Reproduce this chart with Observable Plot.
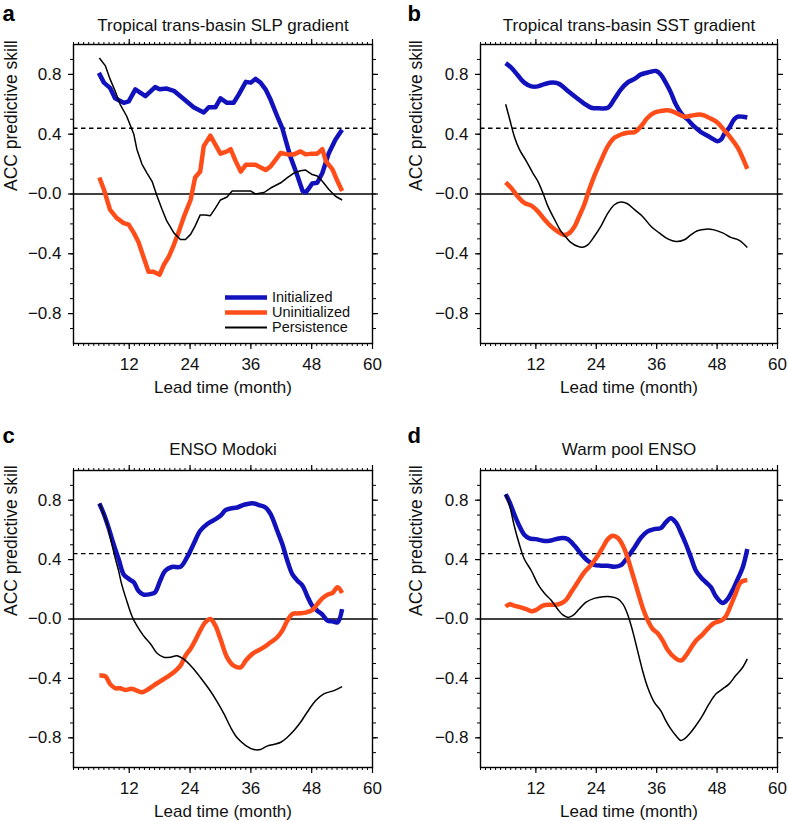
<!DOCTYPE html>
<html><head><meta charset="utf-8">
<script src="https://cdn.jsdelivr.net/npm/d3@7"></script>
<script src="https://cdn.jsdelivr.net/npm/@observablehq/plot@0.6"></script>
<style>
html,body{margin:0;padding:0;background:#fff;}
#root{position:relative;width:788px;height:821px;overflow:hidden;font-family:"Liberation Sans",Arial,sans-serif;color:#111;}
.panel{position:absolute;}
.legend{position:absolute;font-size:14.5px;line-height:15px;}
.legend .row{display:flex;align-items:center;height:15px;}
.legend span{margin-left:5px;}
</style></head>
<body><div id="root"></div>
<script>
// ---------- data ----------
const panelLetters = ["a", "b", "c", "d"];
const panelTitles = ["Tropical trans-basin SLP gradient", "Tropical trans-basin SST gradient", "ENSO Modoki", "Warm pool ENSO"];
const seriesNames = ["Initialized", "Uninitialized", "Persistence"];
const xTickLabels = [12, 24, 36, 48, 60];
const yTickLabels = [-0.8, -0.4, 0, 0.4, 0.8];
const significance = 0.44;
const xLabel = "Lead time (month)";
const yLabel = "ACC predictive skill";

// Panel a: Tropical trans-basin SLP gradient  [lead month, ACC]
const aInit = [[6,0.81],[7,0.745],[8.2,0.71],[9.2,0.64],[10.9,0.61],[11.9,0.62],[13.2,0.70],[15.2,0.655],[17.1,0.715],[18,0.70],[19.4,0.705],[20.8,0.69],[22.4,0.645],[24.7,0.58],[26.7,0.545],[27.7,0.58],[29,0.58],[30,0.64],[31.3,0.61],[32.6,0.61],[33.6,0.665],[35,0.75],[36,0.745],[36.9,0.77],[37.9,0.745],[38.9,0.70],[39.9,0.63],[41.2,0.52],[42.2,0.44],[43.2,0.32],[43.8,0.25],[45.2,0.12],[46.2,0.02],[46.8,0.01],[47.5,0.04],[48.1,0.07],[49.1,0.075],[50.1,0.14],[51.4,0.275],[52.7,0.365],[54,0.43]];
const aUninit = [[6.1,0.11],[7,0.03],[8.2,-0.105],[9.5,-0.16],[10.9,-0.195],[11.9,-0.205],[12.9,-0.26],[13.8,-0.32],[14.8,-0.42],[15.8,-0.52],[16.8,-0.52],[18,-0.54],[18.8,-0.475],[19.8,-0.42],[20.8,-0.34],[21.8,-0.25],[22.7,-0.16],[24.1,-0.04],[25,0.11],[26,0.15],[26.7,0.32],[28,0.39],[29,0.33],[30,0.27],[31.3,0.285],[32,0.30],[33,0.22],[34,0.15],[35,0.195],[36.9,0.195],[38.9,0.16],[39.9,0.185],[40.9,0.23],[41.9,0.275],[43.2,0.265],[44.5,0.265],[45.8,0.285],[46.8,0.265],[48.1,0.27],[49.1,0.27],[50.1,0.30],[50.8,0.22],[52.1,0.165],[53.1,0.085],[54,0.02]];
const aPers = [[6.1,0.91],[7.3,0.857],[8.2,0.77],[9.2,0.69],[10.2,0.60],[11.5,0.52],[12.9,0.40],[13.5,0.30],[14.5,0.20],[15.5,0.14],[16.5,0.085],[17.5,-0.015],[18.5,-0.105],[19.4,-0.18],[20.8,-0.26],[22.1,-0.305],[23.1,-0.305],[24.1,-0.27],[25,-0.215],[26,-0.14],[27,-0.14],[28,-0.145],[29,-0.095],[30,-0.04],[31.3,-0.02],[32.3,0.02],[34,0.02],[36,0.02],[36.9,0.0],[38.6,0.01],[39.9,0.04],[41.9,0.075],[43.2,0.11],[44.5,0.14],[45.8,0.155],[46.8,0.16],[48.1,0.13],[49.1,0.12],[50.1,0.085],[51.4,0.03],[52.7,-0.015],[54,-0.04]];

// Panel b: Tropical trans-basin SST gradient
const bInit = [[6,0.875],[7.1,0.845],[8.4,0.795],[9.7,0.745],[11.1,0.72],[12.4,0.72],[13.7,0.735],[15.4,0.745],[16.7,0.735],[18.3,0.69],[20,0.645],[21.6,0.605],[23,0.577],[24.6,0.573],[26.3,0.577],[27.6,0.635],[28.9,0.70],[30.2,0.745],[31.6,0.77],[32.9,0.80],[34.5,0.815],[35.9,0.823],[36.8,0.80],[37.8,0.745],[38.8,0.68],[39.8,0.60],[41.1,0.53],[42.1,0.50],[43.5,0.45],[44.8,0.414],[46.1,0.39],[47.1,0.37],[48.1,0.353],[48.8,0.365],[49.4,0.40],[50.4,0.443],[51.4,0.50],[52.1,0.517],[53.1,0.517],[54,0.512]];
const bUninit = [[6,0.078],[7.1,0.04],[8.4,-0.016],[9.7,-0.06],[11.1,-0.078],[12.4,-0.116],[13.7,-0.17],[15,-0.217],[16.3,-0.25],[17.7,-0.275],[18.7,-0.26],[19.7,-0.217],[20.6,-0.15],[21.6,-0.072],[22.6,0.03],[23.6,0.12],[24.9,0.22],[26.3,0.32],[27.6,0.376],[28.9,0.398],[30.2,0.41],[31.6,0.414],[32.9,0.454],[34.2,0.51],[35.5,0.543],[36.8,0.555],[38.2,0.56],[39.5,0.548],[40.8,0.526],[41.8,0.517],[43.1,0.526],[44.5,0.532],[45.4,0.526],[46.8,0.503],[48.1,0.477],[49.4,0.427],[50.7,0.376],[52.1,0.31],[53.1,0.24],[54,0.168]];
const bPers = [[6,0.60],[6.8,0.50],[7.7,0.387],[8.7,0.30],[10.1,0.22],[11.4,0.14],[12.4,0.085],[13.4,0.007],[14.4,-0.083],[15.7,-0.17],[17,-0.25],[18,-0.29],[19,-0.325],[20.3,-0.35],[21.3,-0.356],[22.3,-0.34],[23.6,-0.284],[24.9,-0.217],[26.3,-0.128],[27.6,-0.072],[28.9,-0.054],[30.2,-0.065],[31.6,-0.105],[33.2,-0.15],[34.9,-0.217],[36.5,-0.26],[38.2,-0.30],[39.8,-0.318],[41.5,-0.306],[42.8,-0.273],[44.1,-0.246],[45.8,-0.235],[47.4,-0.24],[49.1,-0.26],[50.7,-0.29],[52.4,-0.31],[54,-0.358]];

// Panel c: ENSO Modoki
const cInit = [[6.1,0.778],[7,0.706],[7.9,0.617],[8.9,0.505],[9.9,0.404],[10.9,0.30],[11.9,0.27],[12.9,0.247],[13.8,0.19],[14.8,0.164],[16.2,0.168],[17.1,0.18],[18.1,0.258],[19.1,0.325],[20.4,0.35],[22.1,0.352],[23.4,0.415],[24.7,0.505],[26,0.594],[27.4,0.64],[28.7,0.666],[30,0.695],[31,0.733],[32,0.744],[33.3,0.751],[34.6,0.769],[36.3,0.78],[37.6,0.767],[38.9,0.751],[39.9,0.706],[41.2,0.594],[42.2,0.505],[43.2,0.392],[44.2,0.30],[45.2,0.258],[46.2,0.224],[47.1,0.157],[48.1,0.09],[49.1,0.056],[50.1,0.03],[51.1,-0.011],[52.1,-0.016],[53.1,-0.022],[54,0.067]];
const cUninit = [[6.1,-0.38],[7.3,-0.386],[8.2,-0.437],[9.2,-0.466],[10.2,-0.466],[11.2,-0.478],[12.5,-0.47],[13.5,-0.482],[14.5,-0.493],[15.5,-0.478],[16.8,-0.448],[18.1,-0.42],[19.4,-0.392],[20.8,-0.359],[22.1,-0.314],[23.1,-0.247],[24.1,-0.20],[25,-0.146],[26,-0.078],[27,-0.022],[28,0.0],[29,-0.045],[30,-0.135],[31.3,-0.258],[32.6,-0.314],[34,-0.325],[35,-0.28],[36.3,-0.235],[37.6,-0.209],[38.6,-0.19],[39.9,-0.157],[41.2,-0.123],[42.2,-0.078],[43.2,-0.011],[44.2,0.034],[45.5,0.038],[46.8,0.043],[48.1,0.06],[49.1,0.10],[50.1,0.139],[51.4,0.168],[52.1,0.175],[53.1,0.213],[54,0.175]];
const cPers = [[6.1,0.778],[7,0.70],[7.9,0.612],[8.2,0.56],[9.2,0.415],[9.9,0.325],[10.5,0.235],[11.5,0.123],[12.5,0.022],[13.5,-0.045],[14.8,-0.112],[16.2,-0.168],[17.5,-0.231],[18.8,-0.258],[20.1,-0.258],[21.4,-0.247],[22.7,-0.269],[24.4,-0.325],[26,-0.392],[27.7,-0.47],[29.3,-0.554],[30.7,-0.639],[32,-0.729],[33.3,-0.80],[35,-0.852],[36.6,-0.879],[37.9,-0.879],[39.2,-0.856],[40.5,-0.845],[41.9,-0.83],[43.2,-0.796],[44.5,-0.751],[45.8,-0.695],[47.1,-0.628],[48.8,-0.549],[50.4,-0.504],[52.4,-0.482],[54,-0.455]];

// Panel d: Warm pool ENSO
const dInit = [[6,0.84],[6.8,0.785],[7.7,0.706],[8.7,0.628],[9.7,0.567],[10.7,0.543],[12,0.538],[13.4,0.527],[14.7,0.527],[16,0.538],[17.3,0.545],[18.3,0.538],[19.7,0.493],[21,0.437],[22.3,0.392],[23.6,0.365],[24.9,0.359],[26.3,0.359],[27.6,0.352],[28.9,0.363],[30.2,0.415],[31.6,0.482],[32.9,0.549],[34.2,0.59],[35.5,0.605],[36.8,0.612],[37.8,0.65],[38.8,0.679],[39.8,0.65],[40.8,0.583],[41.8,0.505],[42.8,0.415],[43.8,0.325],[44.8,0.28],[45.8,0.247],[46.8,0.213],[47.8,0.15],[49.1,0.108],[50.1,0.135],[51.1,0.195],[52.1,0.269],[53.1,0.348],[54,0.471]];
const dUninit = [[6,0.083],[6.8,0.10],[7.7,0.09],[9,0.078],[10.1,0.067],[11.1,0.052],[12,0.06],[13.4,0.09],[14.7,0.096],[16,0.096],[17,0.105],[18,0.128],[19,0.18],[20.3,0.247],[21.6,0.314],[23,0.365],[24.3,0.426],[25.3,0.482],[26.3,0.538],[27.3,0.56],[28.3,0.545],[29.3,0.493],[30.2,0.415],[31.2,0.303],[32.2,0.19],[33.2,0.078],[34.2,-0.007],[35.2,-0.067],[36.2,-0.096],[37.2,-0.146],[38.2,-0.209],[39.5,-0.258],[40.8,-0.28],[41.8,-0.247],[42.8,-0.195],[43.8,-0.146],[45.1,-0.105],[46.4,-0.056],[47.4,-0.027],[48.8,-0.011],[49.7,0.016],[50.7,0.09],[51.7,0.173],[52.7,0.247],[54,0.262]];
const dPers = [[6,0.84],[6.8,0.762],[7.7,0.628],[8.7,0.505],[9.7,0.404],[11.1,0.325],[12.4,0.235],[13.7,0.173],[15,0.128],[16.3,0.067],[17.3,0.029],[18.3,0.011],[19.3,0.022],[20.6,0.067],[21.9,0.112],[23.6,0.139],[25.3,0.15],[26.9,0.15],[28.3,0.135],[29.3,0.10],[30.2,0.034],[31.2,-0.078],[32.2,-0.213],[33.2,-0.348],[34.2,-0.46],[35.5,-0.56],[36.8,-0.617],[37.8,-0.684],[38.8,-0.74],[39.8,-0.785],[40.8,-0.818],[41.5,-0.807],[42.5,-0.774],[43.8,-0.717],[45.1,-0.65],[46.4,-0.572],[47.8,-0.504],[49.1,-0.471],[50.4,-0.437],[51.7,-0.381],[53.1,-0.325],[54,-0.269]];

// ---------- layout & style ----------
const panelData = [[aInit, aUninit, aPers], [bInit, bUninit, bPers], [cInit, cUninit, cPers], [dInit, dUninit, dPers]];
const layout = [
  {left: 0,   top: 0,   height: 410, mL: 73, mR: 22, mT: 44, mB: 67, titleDy: -19, letterDx: -71, letterDy: -31, ylDx: -62, curve: "linear"},
  {left: 394, top: 0,   height: 410, mL: 86, mR: 11, mT: 44, mB: 67, titleDy: -19, letterDx: -73, letterDy: -31, ylDx: -64, curve: "catmull-rom"},
  {left: 0,   top: 410, height: 411, mL: 73, mR: 22, mT: 60, mB: 54, titleDy: -21, letterDx: -71, letterDy: -35, ylDx: -62, curve: "catmull-rom"},
  {left: 394, top: 410, height: 411, mL: 86, mR: 11, mT: 60, mB: 54, titleDy: -21, letterDx: -73, letterDy: -35, ylDx: -64, curve: "catmull-rom"}
];
const colors = ["#1212bd", "#ff4d1a", "#000000"];
const widths = [4.5, 4.5, 1.5];
const FONT = "Liberation Sans, Arial, sans-serif";
const fmt = d => (d <= 0 ? "\u2212" : "") + Math.abs(d).toFixed(1);
const minorX = d3.range(1, 61);
const minorY = d3.range(-9, 10).map(d => d / 10);

const root = document.getElementById("root");

panelData.forEach((series, i) => {
  const L = layout[i];
  const toRows = arr => arr.map(([m, v]) => ({m, v}));
  const marks = [
    Plot.ruleY([0], {stroke: "#000", strokeWidth: 1.3}),
    Plot.ruleY([significance], {stroke: "#000", strokeWidth: 1.4, strokeDasharray: "4.5,3.5"}),
    ...series.map((s, k) => Plot.line(toRows(s), {x: "m", y: "v", stroke: colors[k], strokeWidth: widths[k], curve: L.curve, strokeLinejoin: "round", strokeLinecap: "butt"})),
    Plot.frame({stroke: "#000", strokeWidth: 1.4}),
    // bottom & top x axes
    Plot.axisX(minorX, {anchor: "bottom", tickSize: 3, text: null, label: null, strokeWidth: 1}),
    Plot.axisX(xTickLabels, {anchor: "bottom", tickSize: 6, tickPadding: 8, label: null, fontSize: 17, strokeWidth: 1.2, fill: "#111"}),
    Plot.axisX(minorX, {anchor: "top", tickSize: 3, text: null, label: null, strokeWidth: 1}),
    Plot.axisX(xTickLabels, {anchor: "top", tickSize: 6, text: null, label: null, strokeWidth: 1.2}),
    // left & right y axes
    Plot.axisY(minorY, {anchor: "left", tickSize: 3, text: null, label: null, strokeWidth: 1}),
    Plot.axisY(yTickLabels, {anchor: "left", tickSize: 5, tickPadding: 7, tickFormat: fmt, label: null, fontSize: 17, strokeWidth: 1.2, fill: "#111"}),
    Plot.axisY(minorY, {anchor: "right", tickSize: 3, text: null, label: null, strokeWidth: 1}),
    Plot.axisY(yTickLabels, {anchor: "right", tickSize: 5, text: null, label: null, strokeWidth: 1.2}),
    // texts
    Plot.text([panelTitles[i]], {frameAnchor: "top", lineAnchor: "middle", dy: L.titleDy, fontSize: 17, fill: "#111"}),
    Plot.text([panelLetters[i]], {frameAnchor: "top-left", lineAnchor: "middle", textAnchor: "start", dx: L.letterDx, dy: L.letterDy, fontSize: 22, fontWeight: "bold", fill: "#000"}),
    Plot.text([xLabel], {frameAnchor: "bottom", lineAnchor: "middle", dy: 44.5, fontSize: 17, fill: "#111"}),
    Plot.text([yLabel], {frameAnchor: "left", lineAnchor: "middle", dx: L.ylDx, dy: -3, rotate: -90, fontSize: 17.5, fill: "#111"})
  ];
  const chart = Plot.plot({
    width: 394,
    height: L.height,
    marginLeft: L.mL, marginRight: L.mR, marginTop: L.mT, marginBottom: L.mB,
    x: {domain: [1, 60]},
    y: {domain: [-1, 1]},
    style: {fontFamily: FONT, fontSize: "17px", background: "transparent", color: "#000", overflow: "visible"},
    marks
  });
  const wrap = document.createElement("div");
  wrap.className = "panel";
  wrap.style.left = L.left + "px";
  wrap.style.top = L.top + "px";
  wrap.appendChild(chart);
  root.appendChild(wrap);
});

// legend (panel a)
const legend = document.createElement("div");
legend.className = "legend";
legend.style.left = "224px";
legend.style.top = "290px";
seriesNames.forEach((name, k) => {
  const row = document.createElement("div");
  row.className = "row";
  row.innerHTML = `<svg width="43" height="15"><line x1="1" x2="43" y1="7.5" y2="7.5" stroke="${colors[k]}" stroke-width="${k < 2 ? 4.5 : 1.8}"/></svg><span>${name}</span>`;
  legend.appendChild(row);
});
root.appendChild(legend);
</script>
</body></html>
